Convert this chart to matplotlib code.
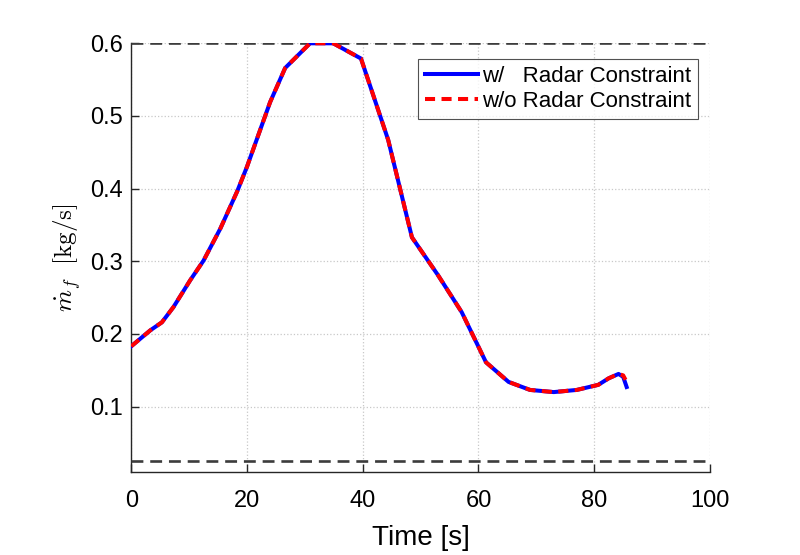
import matplotlib
matplotlib.use("Agg")
import matplotlib.pyplot as plt

# fuel mass-flow history, with and without the radar constraint
t_with = [0, 3.3, 5.3, 7.3, 10.2, 12.5, 15.4, 18.3, 20.0, 24.0, 26.6, 30.9, 34.9,
          39.7, 44.4, 48.5, 53.0, 57.1, 61.3, 65.2, 68.9, 73.0, 77.0, 80.7,
          82.5, 84.2, 85.0, 85.6]
mf_with = [0.183, 0.205, 0.216, 0.237, 0.274, 0.301, 0.345, 0.396, 0.430, 0.519,
           0.566, 0.600, 0.600, 0.579, 0.467, 0.333, 0.281, 0.230, 0.161, 0.134,
           0.123, 0.120, 0.123, 0.130, 0.139, 0.145, 0.141, 0.127]

t_without = [0, 3.3, 5.3, 7.3, 10.2, 12.5, 15.4, 18.3, 20.0, 24.0, 26.6, 30.9, 34.9,
             39.7, 44.4, 48.5, 53.0, 57.1, 61.3, 65.2, 68.9, 73.0, 77.0, 80.7,
             82.5, 84.2, 85.0, 85.4]
mf_without = [0.183, 0.205, 0.216, 0.237, 0.274, 0.301, 0.345, 0.396, 0.430, 0.519,
              0.566, 0.600, 0.600, 0.579, 0.467, 0.333, 0.281, 0.230, 0.161, 0.134,
              0.123, 0.120, 0.123, 0.130, 0.139, 0.145, 0.143, 0.137]

mf_max = 0.6
mf_min = 0.025

plt.rcParams['font.family'] = ['Liberation Sans', 'DejaVu Sans']
plt.rcParams['mathtext.fontset'] = 'cm'

fig = plt.figure(figsize=(8, 5.55), dpi=100)
ax = fig.add_axes([0.164, 0.1495, 0.7235, 0.7725])

# bounds on the fuel flow
ax.axhline(mf_max, color='#3c3c3c', lw=1.9, ls=(0, (4.5, 2.6)), zorder=3)
ax.axhline(mf_min, color='#3c3c3c', lw=1.9, ls=(0, (4.5, 2.6)), zorder=3)

ax.plot(t_with, mf_with, color='#0000ff', lw=2.9, label='w/   Radar Constraint', zorder=4)
ax.plot(t_without, mf_without, color='#ff0000', lw=2.9, ls=(0, (2.5, 1.6)),
        label='w/o Radar Constraint', zorder=5)

ax.set_xlim(0, 100)
ax.set_ylim(0.01, 0.6)
ax.set_xticks([0, 20, 40, 60, 80, 100])
ax.set_yticks([0.1, 0.2, 0.3, 0.4, 0.5, 0.6])
ax.set_yticklabels(['0.1', '0.2', '0.3', '0.4', '0.5', '0.6'])
ax.grid(True, color='#c8c8c8', lw=0.9, ls=':')
ax.set_axisbelow(True)

for s in ['top', 'right']:
    ax.spines[s].set_visible(False)
for s in ['left', 'bottom']:
    ax.spines[s].set_color('#262626')
    ax.spines[s].set_linewidth(1.0)
ax.tick_params(direction='in', length=6, width=1, labelsize=17, colors='#262626',
               labelcolor='black')
ax.tick_params(axis='y', pad=6)
ax.tick_params(axis='x', pad=13)

ax.set_xlabel('Time [s]', fontsize=20, labelpad=9)
ax.set_ylabel(r'$\dot{m}_f\ \ \mathrm{[kg/s]}$', fontsize=18, labelpad=5)

leg = ax.legend(loc='upper right', bbox_to_anchor=(0.979, 0.963), fontsize=16,
                frameon=True, fancybox=False, edgecolor='#262626',
                handlelength=2.4, handletextpad=0.18, borderpad=0.3,
                labelspacing=0.2, borderaxespad=0)
leg.get_frame().set_linewidth(0.8)

fig.savefig('out.png', dpi=100)
